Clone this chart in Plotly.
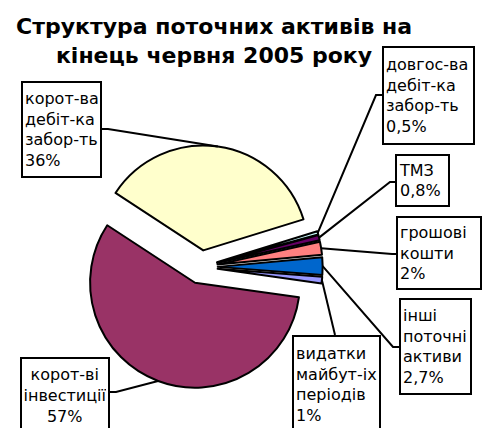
import math
import plotly.graph_objects as go

# ---------------- data ----------------
categories = [
    "видатки майбут-іх періодів",
    "корот-ві інвестиції",
    "корот-ва дебіт-ка забор-ть",
    "довгос-ва дебіт-ка забор-ть",
    "ТМЗ",
    "грошові кошти",
    "інші поточні активи",
]
category_lines = [
    ["видатки", "майбут-іх", "періодів"],
    ["корот-ві", "інвестиції"],
    ["корот-ва", "дебіт-ка", "забор-ть"],
    ["довгос-ва", "дебіт-ка", "забор-ть"],
    ["ТМЗ"],
    ["грошові", "кошти"],
    ["інші", "поточні", "активи"],
]
values = [1.0, 57.0, 36.0, 0.5, 0.8, 2.0, 2.7]
value_labels = ["1%", "57%", "36%", "0,5%", "0,8%", "2%", "2,7%"]
colors = ["#9999FF", "#993366", "#FFFFCC", "#CCFFFF", "#660066", "#FF8080", "#0066CC"]
title_text = "Структура поточних активів на<br>кінець червня 2005 року"

# ---------------- layout settings ----------------
FIG_W, FIG_H = 483, 428
PULL = 0.16
ROTATION = 94.4
DOM_X = [0.164, 0.668]
DOM_Y = [0.0916, 0.6607]
FONT = "DejaVu Sans"
LABEL_SIZE = 16

# label boxes: (left, top, right, bottom, align, edge point, elbow point) in pixels
boxes = [
    (292, 335, 381, 434, "left", (335, 335), None),
    (20, 357, 110, 434, "center", (110, 392), (116, 392)),
    (21, 81, 102, 178, "left", (102, 129), (108, 129)),
    (382, 46, 475, 145, "left", (382, 95), (376, 95)),
    (395, 154, 450, 207, "left", (395, 182), (390, 182)),
    (396, 216, 482, 290, "left", (396, 254), (392, 254)),
    (399, 298, 472, 395, "left", (399, 347), (393, 347)),
]

fig = go.Figure(
    go.Pie(
        labels=categories,
        values=values,
        sort=False,
        direction="clockwise",
        rotation=ROTATION,
        pull=PULL,
        marker=dict(colors=colors, line=dict(color="black", width=2)),
        textinfo="none",
        hoverinfo="label+percent",
        domain=dict(x=DOM_X, y=DOM_Y),
        showlegend=False,
    )
)

# pie geometry (same formula plotly uses)
aw = FIG_W * (DOM_X[1] - DOM_X[0])
ah = FIG_H * (DOM_Y[1] - DOM_Y[0])
r = min(aw, ah) / (2 + 2 * PULL)
cx = FIG_W * (DOM_X[0] + DOM_X[1]) / 2
cy = FIG_H * (1 - DOM_Y[0]) - ah / 2
total = sum(values)


def px(x):
    return x / FIG_W


def py(y):
    return 1 - y / FIG_H


annotations = []
shapes = []
cum = 0.0
for i, v in enumerate(values):
    mid = math.radians(ROTATION + (cum + v / 2) / total * 360)
    cum += v
    ax_ = cx + (1 + PULL) * r * math.sin(mid)
    ay_ = cy - (1 + PULL) * r * math.cos(mid)
    left, top, right, bottom, align, edge, elbow = boxes[i]
    pts = [(ax_, ay_)] + ([elbow] if elbow else []) + [edge]
    path = "M " + " L ".join(f"{px(x):.5f},{py(y):.5f}" for x, y in pts)
    shapes.append(dict(type="path", xref="paper", yref="paper", path=path,
                       line=dict(color="black", width=2)))
    bw, pad = 2, 2
    annotations.append(dict(
        xref="paper", yref="paper", x=px(left), y=py(top),
        xanchor="left", yanchor="top", showarrow=False,
        text="<br>".join(category_lines[i] + [value_labels[i]]),
        align=align, valign="middle",
        width=(right - left) - 2 * (bw + pad),
        height=(bottom - top) - 2 * (bw + pad),
        bordercolor="black", borderwidth=bw, borderpad=pad, bgcolor="white",
        font=dict(family=FONT, size=LABEL_SIZE, color="black"),
    ))

annotations.append(dict(
    xref="paper", yref="paper", x=px(214), y=py(12),
    xanchor="center", yanchor="top", showarrow=False,
    text="<b>" + title_text.replace("<br>", "</b><br><b>") + "</b>",
    align="center",
    font=dict(family=FONT, size=22, color="black"),
))

fig.update_layout(
    width=FIG_W, height=FIG_H,
    margin=dict(l=0, r=0, t=0, b=0),
    paper_bgcolor="white", plot_bgcolor="white",
    annotations=annotations, shapes=shapes,
)

fig.write_html(
    "out.html",
    config={"displayModeBar": False},
    post_script="document.body.style.margin='0px';",
)
